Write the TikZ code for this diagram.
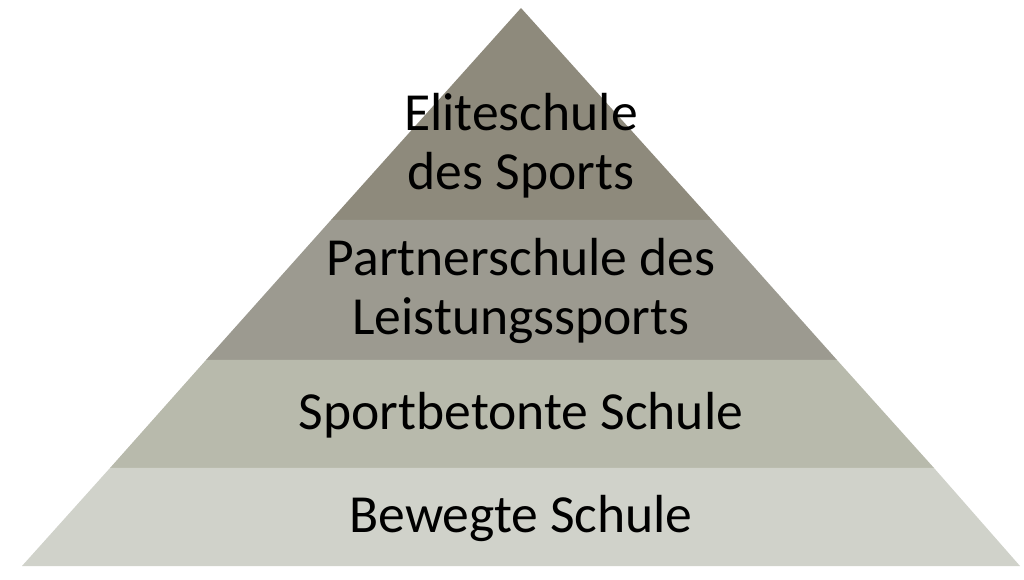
\documentclass[tikz,border=0pt]{standalone}
\usepackage{fontspec}
\setmainfont{Carlito}
\definecolor{layerA}{RGB}{142,138,124}
\definecolor{layerB}{RGB}{156,154,144}
\definecolor{layerC}{RGB}{184,186,172}
\definecolor{layerD}{RGB}{208,210,202}
\tikzset{label/.style={align=center,font=\fontsize{30.5}{34}\selectfont,text=black}}
\begin{document}
\begin{tikzpicture}[x=0.02cm,y=-0.02cm]
      \useasboundingbox (0,0) rectangle (1024,580);
      % layers, top to bottom
      \fill[layerA] (521,8) -- (712,220) -- (331,220) -- cycle;
      \fill[layerB] (331,220) -- (712,220) -- (837,360) -- (206,360) -- cycle;
      \fill[layerC] (206,360) -- (837,360) -- (934,468) -- (110,468) -- cycle;
      \fill[layerD] (110,468) -- (934,468) -- (1020,566) -- (22,566) -- cycle;

      \node(elite) [label, anchor=base] at (521,190) {Eliteschule\\des Sports};
      \node(partner) [label, anchor=base] at (521,335) {Partnerschule des\\Leistungssports};
      \node(sport) [label, anchor=base] at (521,430) {Sportbetonte Schule};
      \node(bewegt) [label, anchor=base] at (521,532) {Bewegte Schule};
    \end{tikzpicture}
\end{document}
